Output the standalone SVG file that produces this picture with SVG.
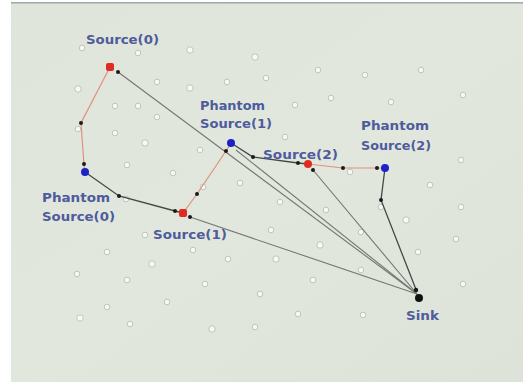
<svg xmlns="http://www.w3.org/2000/svg" width="527" height="384" viewBox="0 0 527 384">
<defs>
<linearGradient id="bg" x1="0" y1="0" x2="1" y2="1">
<stop offset="0" stop-color="#dfe5da"/>
<stop offset="0.5" stop-color="#e2e7de"/>
<stop offset="1" stop-color="#dde3d8"/>
</linearGradient>
<style>
.lbl{font-family:"DejaVu Sans","Liberation Sans",sans-serif;font-weight:bold;font-size:13px;fill:#4e5b9c}
.w{fill:#f8f9f6;stroke:#b4b8b0;stroke-width:0.8}
.red{fill:none;stroke:#e0907e;stroke-width:1.2}
.dark{fill:none;stroke:#474846;stroke-width:1.3}
.gray{fill:none;stroke:#747672;stroke-width:1.1}
.bd{fill:#1a1a1a}
</style>
</defs>
<rect x="0" y="0" width="527" height="384" fill="#ffffff"/>
<rect x="11" y="2" width="512" height="380" fill="url(#bg)"/>
<rect x="11" y="2" width="512" height="1.5" fill="#a4a6a2"/>

<g id="sensors">
<circle class="w" cx="82" cy="48" r="2.8"/><circle class="w" cx="138" cy="53" r="2.8"/><circle class="w" cx="190" cy="50" r="3.2"/><circle class="w" cx="255" cy="57" r="3.2"/>
<circle class="w" cx="78" cy="89" r="3.2"/><circle class="w" cx="157" cy="82" r="2.8"/><circle class="w" cx="190" cy="88" r="3.2"/><circle class="w" cx="227" cy="82" r="2.8"/>
<circle class="w" cx="115" cy="106" r="2.8"/><circle class="w" cx="138" cy="106" r="2.8"/><circle class="w" cx="157" cy="117" r="2.8"/><circle class="w" cx="115" cy="133" r="2.8"/>
<circle class="w" cx="145" cy="143" r="3.2"/><circle class="w" cx="200" cy="150" r="2.8"/><circle class="w" cx="127" cy="165" r="2.8"/><circle class="w" cx="173" cy="173" r="2.8"/><circle class="w" cx="240" cy="183" r="2.8"/>
<circle class="w" cx="318" cy="70" r="2.8"/><circle class="w" cx="365" cy="75" r="2.8"/><circle class="w" cx="421" cy="70" r="2.8"/><circle class="w" cx="266" cy="78" r="2.8"/>
<circle class="w" cx="331" cy="98" r="2.8"/><circle class="w" cx="295" cy="105" r="2.8"/><circle class="w" cx="391" cy="102" r="2.8"/><circle class="w" cx="463" cy="95" r="2.8"/>
<circle class="w" cx="285" cy="137" r="2.8"/><circle class="w" cx="461" cy="160" r="2.8"/><circle class="w" cx="350" cy="172" r="2.8"/><circle class="w" cx="430" cy="185" r="2.8"/>
<circle class="w" cx="78" cy="129" r="2.8"/><circle class="w" cx="126" cy="199" r="2.8"/><circle class="w" cx="203" cy="187" r="2.8"/>
<circle class="w" cx="145" cy="235" r="2.8"/><circle class="w" cx="107" cy="252" r="2.8"/><circle class="w" cx="193" cy="250" r="2.8"/><circle class="w" cx="152" cy="264" r="3.2"/>
<circle class="w" cx="228" cy="259" r="2.8"/><circle class="w" cx="77" cy="274" r="2.8"/><circle class="w" cx="127" cy="280" r="2.8"/><circle class="w" cx="205" cy="284" r="2.8"/>
<circle class="w" cx="260" cy="294" r="2.8"/><circle class="w" cx="167" cy="302" r="2.8"/><circle class="w" cx="107" cy="307" r="2.8"/><circle class="w" cx="80" cy="318" r="3.2"/>
<circle class="w" cx="130" cy="324" r="2.8"/><circle class="w" cx="212" cy="329" r="3.2"/><circle class="w" cx="255" cy="327" r="2.8"/>
<circle class="w" cx="280" cy="202" r="2.8"/><circle class="w" cx="326" cy="210" r="2.8"/><circle class="w" cx="381" cy="207" r="2.8"/><circle class="w" cx="406" cy="220" r="3.2"/>
<circle class="w" cx="461" cy="207" r="2.8"/><circle class="w" cx="271" cy="230" r="2.8"/><circle class="w" cx="361" cy="232" r="2.8"/><circle class="w" cx="320" cy="245" r="3.2"/>
<circle class="w" cx="276" cy="259" r="3.2"/><circle class="w" cx="418" cy="252" r="2.8"/><circle class="w" cx="456" cy="239" r="2.8"/><circle class="w" cx="361" cy="270" r="2.8"/>
<circle class="w" cx="313" cy="280" r="2.8"/><circle class="w" cx="463" cy="284" r="2.8"/><circle class="w" cx="298" cy="314" r="2.8"/><circle class="w" cx="363" cy="315" r="2.8"/>
</g>

<g id="connectors">
<polyline class="gray" points="118,72 417,294"/>
<polyline class="gray" points="236,150 417,294"/>
<polyline class="gray" points="190,217 417,294"/>
<polyline class="gray" points="313,170 417,294"/>
<polyline class="red" points="110,67 81,123 84,165 85,172"/>
<polyline class="red" points="183,213 197,194 226,151 231,143"/>
<polyline class="red" points="308,164 343,168 377,168 385,168"/>
<polyline class="dark" points="85,172 119,196 175,211 183,213"/>
<polyline class="dark" points="231,143 253,157 298,163 308,164"/>
<polyline class="dark" points="385,168 381,200 417,292"/>
<circle class="bd" cx="118" cy="72" r="2"/><circle class="bd" cx="81" cy="123" r="2"/><circle class="bd" cx="84" cy="164" r="2"/>
<circle class="bd" cx="119" cy="196" r="2"/><circle class="bd" cx="175" cy="211" r="2"/><circle class="bd" cx="190" cy="217" r="2"/>
<circle class="bd" cx="197" cy="194" r="2"/><circle class="bd" cx="226" cy="151" r="2"/><circle class="bd" cx="253" cy="157" r="2"/>
<circle class="bd" cx="298" cy="163" r="2"/><circle class="bd" cx="313" cy="170" r="2"/><circle class="bd" cx="343" cy="168" r="2"/>
<circle class="bd" cx="377" cy="168" r="2"/><circle class="bd" cx="381" cy="200" r="2"/><circle class="bd" cx="416" cy="290" r="2.2"/>
</g>

<g id="source0"><rect x="106" y="63" width="8" height="8" rx="2" fill="#e02a22"/><text class="lbl" x="86" y="44" textLength="73" lengthAdjust="spacingAndGlyphs">Source(0)</text></g>
<g id="phantom0"><circle cx="85" cy="172" r="4" fill="#1c22c8"/><text class="lbl" x="42" y="202" textLength="68" lengthAdjust="spacingAndGlyphs">Phantom</text><text class="lbl" x="42" y="221" textLength="73" lengthAdjust="spacingAndGlyphs">Source(0)</text></g>
<g id="source1"><rect x="179" y="209" width="8" height="8" rx="2" fill="#e02a22"/><text class="lbl" x="153" y="239" textLength="74" lengthAdjust="spacingAndGlyphs">Source(1)</text></g>
<g id="phantom1"><circle cx="231" cy="143" r="4" fill="#1c22c8"/><text class="lbl" x="200" y="110" textLength="65" lengthAdjust="spacingAndGlyphs">Phantom</text><text class="lbl" x="200" y="128" textLength="72" lengthAdjust="spacingAndGlyphs">Source(1)</text></g>
<g id="source2"><circle cx="308" cy="164" r="4" fill="#e02a22"/><text class="lbl" x="263" y="159" textLength="75" lengthAdjust="spacingAndGlyphs">Source(2)</text></g>
<g id="phantom2"><circle cx="385" cy="168" r="4" fill="#1c22c8"/><text class="lbl" x="361" y="130" textLength="68" lengthAdjust="spacingAndGlyphs">Phantom</text><text class="lbl" x="361" y="150" textLength="70" lengthAdjust="spacingAndGlyphs">Source(2)</text></g>
<g id="sink"><circle cx="419" cy="298" r="4" fill="#111111"/><text class="lbl" x="406" y="320" textLength="33" lengthAdjust="spacingAndGlyphs">Sink</text></g>
</svg>
